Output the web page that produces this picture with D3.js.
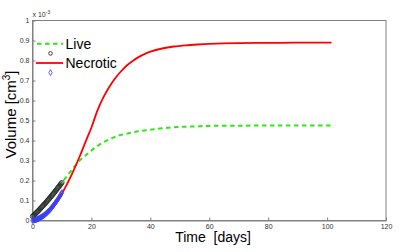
<!DOCTYPE html>
<html>
<head>
<meta charset="utf-8">
<script src="https://cdn.jsdelivr.net/npm/d3@7"></script>
<style>
  body { margin: 0; background: #fff; }
  svg { display: block; font-family: "Liberation Sans", Arial, sans-serif; }
</style>
</head>
<body>
<div id="chart"></div>
<script>
// measured data (volume in units of 1e-3 cm^3), one sample every 0.25 day
var dataDays = [0, 0.25, 0.5, 0.75, 1, 1.25, 1.5, 1.75, 2, 2.25, 2.5, 2.75, 3, 3.25, 3.5, 3.75, 4, 4.25, 4.5, 4.75,
                5, 5.25, 5.5, 5.75, 6, 6.25, 6.5, 6.75, 7, 7.25, 7.5, 7.75, 8, 8.25, 8.5, 8.75, 9, 9.25, 9.5, 9.75, 10];
var liveData = [0.020, 0.024, 0.027, 0.031, 0.034, 0.038, 0.042, 0.045, 0.049, 0.053, 0.057, 0.061, 0.065, 0.069,
                0.073, 0.077, 0.081, 0.085, 0.089, 0.093, 0.098, 0.102, 0.106, 0.110, 0.115, 0.119, 0.124, 0.128,
                0.133, 0.137, 0.142, 0.147, 0.151, 0.156, 0.161, 0.166, 0.170, 0.175, 0.180, 0.185, 0.190];
var necroticData = [0.000, 0.001, 0.001, 0.002, 0.003, 0.004, 0.006, 0.007, 0.009, 0.011, 0.013, 0.015, 0.017, 0.019,
                    0.022, 0.024, 0.027, 0.030, 0.033, 0.037, 0.040, 0.044, 0.047, 0.051, 0.055, 0.059, 0.064, 0.068,
                    0.073, 0.078, 0.083, 0.088, 0.093, 0.098, 0.104, 0.109, 0.115, 0.121, 0.127, 0.134, 0.140];

// model curves
var liveDays = [0, 2, 4, 6, 8, 10, 12, 14, 16, 18, 20, 22, 24, 26, 28, 30, 33, 36, 40, 44, 48, 52, 56, 60, 70, 80, 90, 101.5];
var liveModel = [0.020, 0.050, 0.083, 0.118, 0.155, 0.190, 0.228, 0.265, 0.300, 0.325, 0.350, 0.372, 0.390, 0.405,
                 0.418, 0.428, 0.437, 0.446, 0.454, 0.461, 0.466, 0.469, 0.471, 0.473, 0.474, 0.475, 0.475, 0.475];
var necDays = [0, 2, 4, 6, 8, 10, 12, 14, 16, 18, 20, 22, 24, 26, 28, 30, 32, 34, 36, 38, 40, 44, 48, 52, 56, 60, 70, 80, 90, 101.5];
var necModel = [0.000, 0.009, 0.027, 0.055, 0.093, 0.135, 0.190, 0.252, 0.320, 0.393, 0.465, 0.548, 0.614, 0.666,
                0.710, 0.745, 0.775, 0.798, 0.817, 0.832, 0.844, 0.860, 0.870, 0.876, 0.880, 0.883, 0.887, 0.888, 0.889, 0.889];

var xTicks = [0, 20, 40, 60, 80, 100, 120];
var yTicks = [0, 0.1, 0.2, 0.3, 0.4, 0.5, 0.6, 0.7, 0.8, 0.9, 1];
var legendLabels = ["Live", "", "Necrotic", ""];

var width = 415, height = 252;
var margin = {top: 20.5, right: 29, bottom: 31.5, left: 32.5};

var svg = d3.select("#chart").append("svg")
  .attr("width", width)
  .attr("height", height);

var x = d3.scaleLinear().domain([0, 120]).range([margin.left, width - margin.right]);
var y = d3.scaleLinear().domain([0, 1]).range([height - margin.bottom, margin.top]);

var axisColor = "#808080";

// axes box
svg.append("rect")
  .attr("x", x(0)).attr("y", y(1))
  .attr("width", x(120) - x(0)).attr("height", y(0) - y(1))
  .attr("fill", "none").attr("stroke", axisColor).attr("stroke-width", 1);

var xAxis = svg.append("g")
  .attr("transform", "translate(0," + y(0) + ")")
  .call(d3.axisBottom(x).tickValues(xTicks).tickSizeInner(-3).tickSizeOuter(0).tickPadding(4));
var yAxis = svg.append("g")
  .attr("transform", "translate(" + x(0) + ",0)")
  .call(d3.axisLeft(y).tickValues(yTicks).tickSizeInner(-3).tickSizeOuter(0).tickPadding(3)
    .tickFormat(d3.format("~g")));

[xAxis, yAxis].forEach(function(a) {
  a.select(".domain").attr("stroke", axisColor);
  a.selectAll(".tick line").attr("stroke", axisColor);
  a.selectAll(".tick text").attr("fill", "#333").style("font-size", "7px")
    .style("font-family", "'Liberation Sans', Arial, sans-serif");
});

// exponent label
var expo = svg.append("text").attr("x", x(0)).attr("y", 16.5)
  .style("font-size", "7px").attr("fill", "#333");
expo.append("tspan").text("x 10");
expo.append("tspan").attr("dy", -3).style("font-size", "5px").text("-3");

var line = d3.line()
  .x(function(d) { return x(d[0]); })
  .y(function(d) { return y(d[1]); })
  .curve(d3.curveCatmullRom.alpha(0.5));

var green = "#2ee812", red = "#ff0000", blue = "#3040ff";

svg.append("path")
  .datum(d3.zip(liveDays, liveModel))
  .attr("d", line)
  .attr("fill", "none").attr("stroke", green).attr("stroke-width", 2)
  .attr("stroke-dasharray", "4.5,3.5");

var diamond = d3.symbol().type(d3.symbolDiamond).size(10);

svg.append("g").selectAll("circle")
  .data(d3.zip(dataDays, liveData))
  .enter().append("circle")
  .attr("cx", function(d) { return x(d[0]); })
  .attr("cy", function(d) { return y(d[1]); })
  .attr("r", 2.3)
  .attr("fill", "none").attr("stroke", "#222").attr("stroke-width", 0.7);

svg.append("path")
  .datum(d3.zip(necDays, necModel))
  .attr("d", line)
  .attr("fill", "none").attr("stroke", red).attr("stroke-width", 1.8);

svg.append("g").selectAll("path")
  .data(d3.zip(dataDays, necroticData))
  .enter().append("path")
  .attr("d", diamond)
  .attr("transform", function(d) { return "translate(" + x(d[0]) + "," + y(d[1]) + ")"; })
  .attr("fill", "none").attr("stroke", blue).attr("stroke-width", 0.8);

// legend
var leg = svg.append("g");
var legY = function(i) { return 43.8 + i * 9.6; };
leg.append("line").attr("x1", 37).attr("x2", 63).attr("y1", legY(0)).attr("y2", legY(0))
  .attr("stroke", green).attr("stroke-width", 2).attr("stroke-dasharray", "4.5,3.5");
leg.append("circle").attr("cx", 50.5).attr("cy", legY(1)).attr("r", 1.8)
  .attr("fill", "none").attr("stroke", "#111").attr("stroke-width", 0.8);
leg.append("line").attr("x1", 36).attr("x2", 63).attr("y1", legY(2)).attr("y2", legY(2))
  .attr("stroke", red).attr("stroke-width", 1.8);
leg.append("path").attr("d", diamond)
  .attr("transform", "translate(50.5," + legY(3) + ")")
  .attr("fill", "none").attr("stroke", blue).attr("stroke-width", 0.8);
leg.selectAll("text.lab")
  .data(legendLabels)
  .enter().append("text")
  .attr("class", "lab")
  .attr("x", 65.5)
  .attr("y", function(d, i) { return legY(i) + 5; })
  .style("font-size", "14px")
  .attr("fill", "#000")
  .text(function(d) { return d; });

// axis titles
svg.append("text")
  .attr("x", 213).attr("y", 241.5)
  .attr("text-anchor", "middle")
  .style("font-size", "14px")
  .style("white-space", "pre")
  .text("Time  [days]");

var yl = svg.append("text")
  .attr("transform", "translate(16,114.5) rotate(-90)")
  .attr("text-anchor", "middle")
  .style("font-size", "15px");
yl.append("tspan").text("Volume [cm");
yl.append("tspan").attr("dy", -6).style("font-size", "10px").text("3");
yl.append("tspan").attr("dy", 6).text("]");
</script>
</body>
</html>
